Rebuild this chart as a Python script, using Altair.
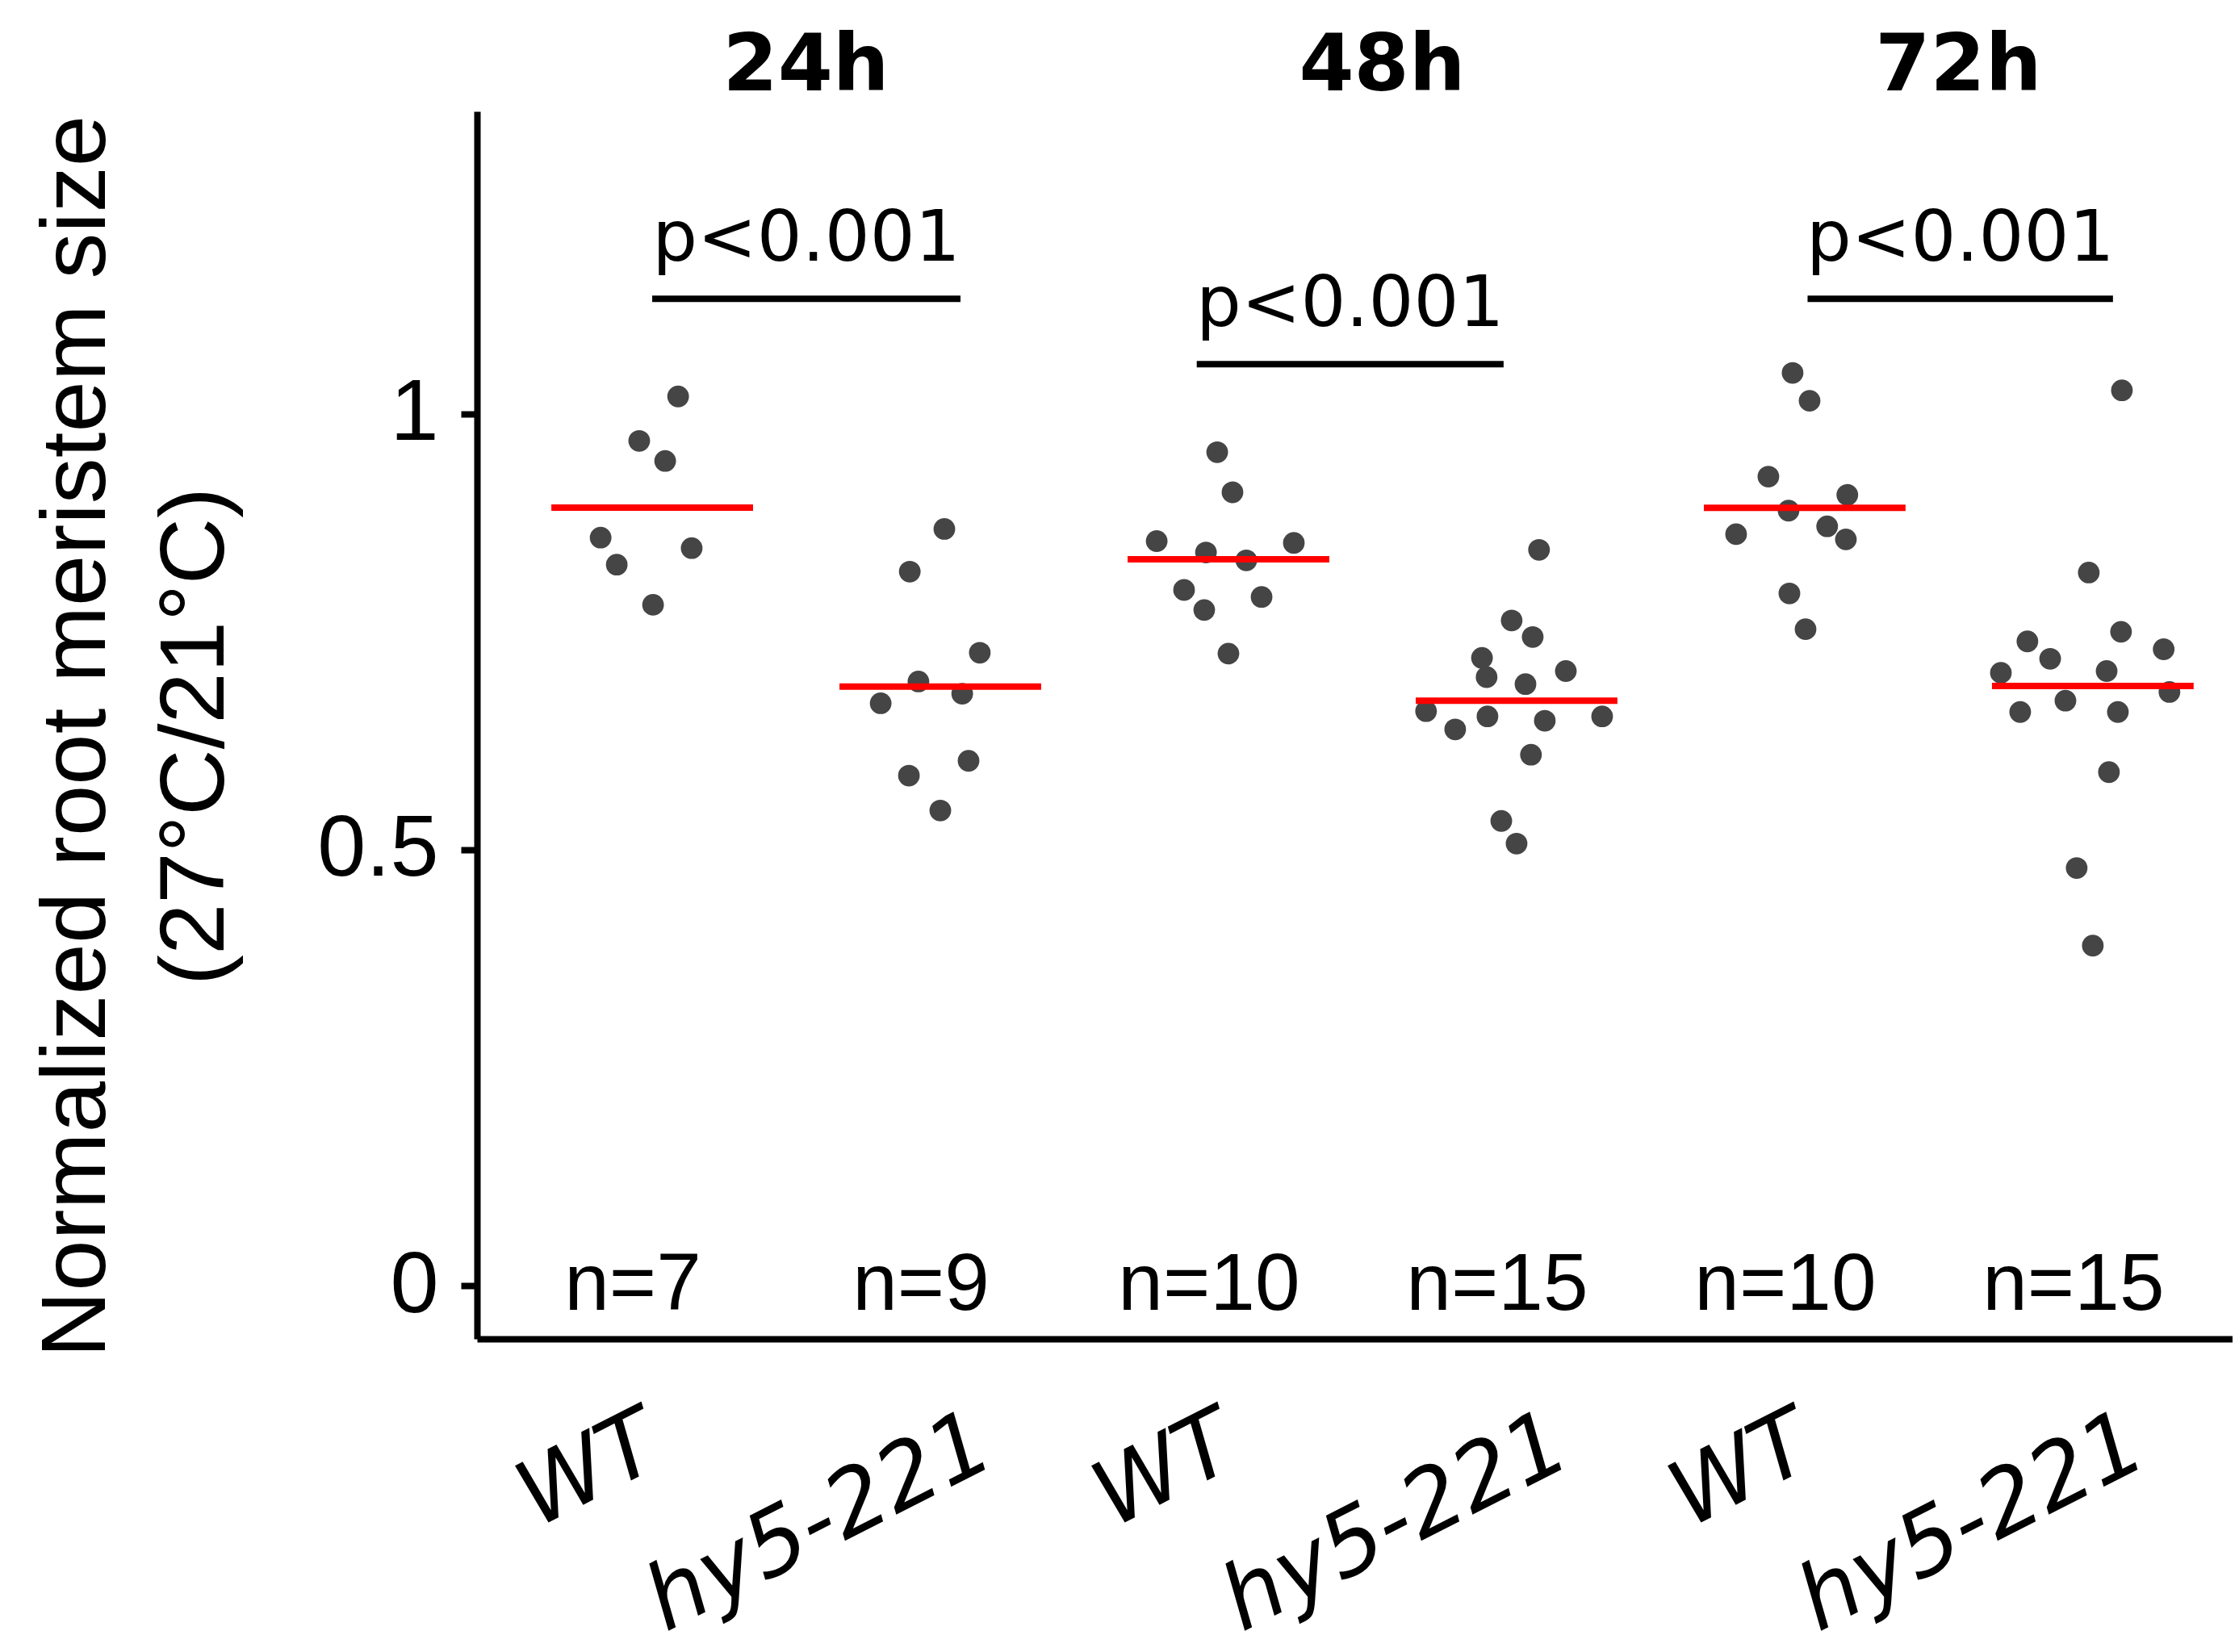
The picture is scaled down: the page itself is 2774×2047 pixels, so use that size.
import altair as alt
import pandas as pd

# ---------------- data ----------------
genotypes = ["WT", "hy5-221", "WT", "hy5-221", "WT", "hy5-221"]
times = ["24h", "48h", "72h"]

wt_24h = [1.020, 0.969, 0.946, 0.858, 0.846, 0.827, 0.781]
wt_24h_jitter = [0.090, -0.045, 0.045, -0.179, 0.137, -0.123, 0.003]

hy5_24h = [0.868, 0.819, 0.726, 0.693, 0.679, 0.668, 0.602, 0.585, 0.545]
hy5_24h_jitter = [0.014, -0.106, 0.137, -0.076, 0.076, -0.207, 0.098, -0.109, 0.000]

wt_48h = [0.956, 0.910, 0.854, 0.852, 0.841, 0.832, 0.798, 0.790, 0.775, 0.725]
wt_48h_jitter = [-0.039, 0.014, -0.249, 0.227, -0.078, 0.062, -0.154, 0.115, -0.084, 0.000]

hy5_48h = [0.844, 0.763, 0.744, 0.720, 0.705, 0.698, 0.690, 0.659, 0.653, 0.653,
           0.648, 0.638, 0.609, 0.533, 0.507]
hy5_48h_jitter = [0.078, -0.017, 0.056, -0.120, 0.171, -0.104, 0.031, -0.314, -0.101, 0.297,
                  0.098, -0.213, 0.050, -0.053, 0.000]

wt_72h = [1.047, 1.015, 0.928, 0.907, 0.889, 0.871, 0.862, 0.856, 0.794, 0.753]
wt_72h_jitter = [-0.042, 0.017, -0.126, 0.148, -0.056, 0.078, -0.238, 0.143, -0.053, 0.003]

hy5_72h = [1.027, 0.818, 0.750, 0.739, 0.730, 0.719, 0.703, 0.705, 0.681, 0.671,
           0.658, 0.658, 0.589, 0.479, 0.390]
hy5_72h_jitter = [0.101, -0.014, 0.098, -0.227, 0.246, -0.148, -0.319, 0.048, 0.266, -0.095,
                  -0.252, 0.087, 0.056, -0.056, 0.000]

# significance annotations (in data units)
p_labels = ["p<0.001", "p<0.001", "p<0.001"]
p_from = [0.0, 1.89, 4.01]
p_to = [1.07, 2.955, 5.07]
p_height = [1.132, 1.057, 1.132]

y_title = ["Normalized root meristem size", "(27°C/21°C)"]

# ---------------- tables ----------------
series = [wt_24h, hy5_24h, wt_48h, hy5_48h, wt_72h, hy5_72h]
jitters = [wt_24h_jitter, hy5_24h_jitter, wt_48h_jitter, hy5_48h_jitter,
           wt_72h_jitter, hy5_72h_jitter]
rows = []
for i, (vals, jit) in enumerate(zip(series, jitters)):
    for v, j in zip(vals, jit):
        rows.append({"idx": i, "genotype": genotypes[i], "time": times[i // 2],
                     "value": v, "jitter": j})
df = pd.DataFrame(rows)

ann = pd.DataFrame({"label": p_labels, "x1": p_from, "x2": p_to, "value": p_height})
ann["mid"] = (ann["x1"] + ann["x2"]) / 2

tdf = pd.DataFrame({"time": times, "k": list(range(len(times)))})
gdf = pd.DataFrame({"genotype": genotypes, "idx": list(range(len(genotypes)))})

# ---------------- scales / axes ----------------
xscale = alt.Scale(domain=[-0.608, 5.485], nice=False, zero=False)
yscale = alt.Scale(domain=[-0.0611, 1.347], nice=False, zero=False)

xaxis = alt.Axis(values=[0, 1, 2, 3, 4, 5], labels=False,
                 ticks=False, grid=False, domainWidth=8, domainColor="black",
                 title=None)

yaxis = alt.Axis(values=[0, 0.5, 1], format="~g", tickSize=20, tickWidth=8,
                 tickColor="black", domainWidth=8, domainColor="black",
                 labelFont="Liberation Sans", labelFontSize=108,
                 labelPadding=28, labelColor="black", grid=False,
                 title=y_title,
                 titleFont="Liberation Sans", titleFontSize=114,
                 titleFontWeight="normal", titleColor="black",
                 titleX=-462, titleY=774, titleAngle=270, titleAlign="center",
                 titleBaseline="alphabetic", titleLineHeight=147, titleLimit=4000)


def X(field):
    return alt.X(field, scale=xscale, axis=xaxis, title=None)


def Y(field):
    return alt.Y(field, scale=yscale, axis=yaxis, title=y_title)


base = alt.Chart(df)

points = base.transform_calculate(
    xpos="datum.idx + datum.jitter"
).mark_circle(size=720, color="#454545", opacity=1).encode(
    x=X("xpos:Q"),
    y=Y("value:Q"),
)

means = base.transform_aggregate(
    value="mean(value)", groupby=["idx"]
).transform_calculate(
    x1="datum.idx - 0.35", x2="datum.idx + 0.35"
).mark_rule(color="#ff0000", strokeWidth=8).encode(
    x=X("x1:Q"), x2="x2:Q",
    y=Y("value:Q"),
)

counts = base.transform_aggregate(
    n="count()", groupby=["idx"]
).transform_calculate(
    label="'n=' + datum.n", value="0"
).mark_text(font="Liberation Sans", fontSize=100, baseline="middle", dx=-24,
            color="black").encode(
    x=X("idx:Q"),
    y=Y("value:Q"),
    text="label:N",
)

brackets = alt.Chart(ann).mark_rule(color="black", strokeWidth=8).encode(
    x=X("x1:Q"), x2="x2:Q",
    y=Y("value:Q"),
)

ptext = alt.Chart(ann).mark_text(font="DejaVu Sans", fontSize=88, baseline="alphabetic",
                                 dy=-47, color="black").encode(
    x=X("mid:Q"),
    y=Y("value:Q"),
    text="label:N",
)

titles = alt.Chart(tdf).transform_calculate(
    xc="2 * datum.k + 0.5"
).mark_text(font="DejaVu Sans", fontWeight="bold", fontSize=98, baseline="middle",
            dx=12, color="black").encode(
    x=X("xc:Q"),
    y=alt.value(-55),
    text="time:N",
)

# rotated italic genotype labels under the axis
xlabels = alt.Chart(gdf).transform_calculate(
    xl="datum.idx + (datum.genotype == 'WT' ? -0.064 : 0.09)"
).mark_text(font="DejaVu Sans", fontStyle="italic", fontSize=112, angle=333,
            align="right", baseline="top", color="black").encode(
    x=X("xl:Q"),
    y=alt.value(1596),
    text="genotype:N",
)

chart = alt.layer(points, means, counts, brackets, ptext, titles, xlabels).properties(
    width=2175, height=1521,
    autosize=alt.AutoSizeParams(type="none"),
    padding={"left": 583, "top": 130, "right": 0, "bottom": 380},
).configure_view(stroke=None)

chart.save("out.html", embed_options={"renderer": "svg", "actions": False})
